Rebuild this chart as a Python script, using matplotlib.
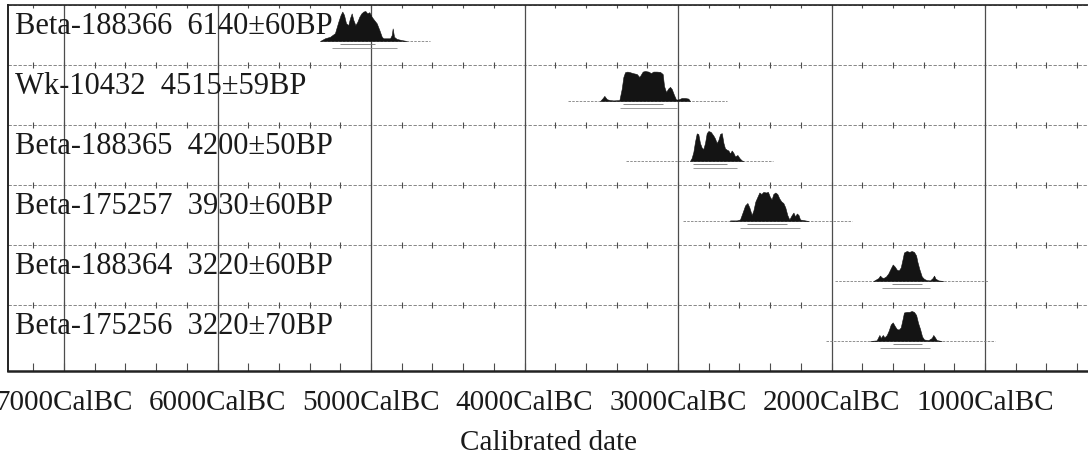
import matplotlib
matplotlib.use("Agg")
import matplotlib.pyplot as plt
from matplotlib.ticker import FixedLocator, MultipleLocator, FuncFormatter

# sample labels (top to bottom)
labels = [
    "Beta-188366  6140\u00b160BP",
    "Wk-10432  4515\u00b159BP",
    "Beta-188365  4200\u00b150BP",
    "Beta-175257  3930\u00b160BP",
    "Beta-188364  3220\u00b160BP",
    "Beta-175256  3220\u00b170BP",
]

# calibrated probability curves, years BC and relative probability
years_1 = [5332, 5300, 5267, 5235, 5213, 5198, 5187, 5176, 5163, 5148, 5137, 5126, 5115, 5102, 5089,
           5076, 5063, 5050, 5037, 5024, 5011, 4996, 4980, 4963, 4946, 4930, 4920, 4898, 4876, 4865,
           4859, 4850, 4833, 4800, 4767]
prob_1 = [0.0, 0.09, 0.14, 0.26, 0.64, 0.87, 0.98, 0.87, 0.59, 0.53, 0.76, 0.92, 0.70, 0.53, 0.64,
          0.81, 0.92, 0.98, 1.0, 0.92, 0.96, 0.81, 0.70, 0.59, 0.37, 0.14, 0.09, 0.09, 0.09, 0.2,
          0.42, 0.14, 0.07, 0.03, 0.0]

years_2 = [3508, 3490, 3480, 3464, 3443, 3421, 3382, 3367, 3356, 3345, 3330, 3313, 3295, 3269, 3252,
           3243, 3230, 3215, 3193, 3176, 3161, 3139, 3117, 3100, 3091, 3078, 3063, 3052, 3041, 3026,
           3013, 2998, 2976, 2954, 2933, 2922]
prob_2 = [0.0, 0.1, 0.17, 0.06, 0.03, 0.02, 0.03, 0.4, 0.8, 0.96, 0.98, 0.96, 0.93, 0.9, 0.8,
          0.87, 0.98, 1.0, 0.98, 0.93, 0.98, 0.98, 0.97, 0.9, 0.5, 0.3, 0.42, 0.47, 0.4, 0.2,
          0.05, 0.05, 0.1, 0.1, 0.08, 0.0]

years_3 = [2922, 2911, 2900, 2889, 2878, 2868, 2857, 2846, 2835, 2824, 2813, 2802, 2787, 2770, 2759,
           2748, 2737, 2726, 2715, 2704, 2694, 2683, 2672, 2661, 2650, 2639, 2628, 2613, 2600, 2585,
           2574]
prob_3 = [0.0, 0.1, 0.3, 0.65, 0.92, 0.9, 0.6, 0.45, 0.4, 0.6, 0.93, 1.0, 0.97, 0.85, 0.75,
          0.6, 0.7, 0.9, 0.93, 0.6, 0.42, 0.38, 0.35, 0.25, 0.35, 0.27, 0.15, 0.2, 0.1, 0.02,
          0.0]

years_4 = [2661, 2617, 2596, 2578, 2563, 2548, 2535, 2520, 2509, 2496, 2483, 2470, 2457, 2444, 2427,
           2414, 2401, 2390, 2379, 2366, 2353, 2340, 2327, 2314, 2301, 2288, 2275, 2259, 2248, 2237,
           2226, 2215, 2205, 2183, 2150]
prob_4 = [0.02, 0.02, 0.05, 0.3, 0.52, 0.6, 0.45, 0.2, 0.35, 0.65, 0.8, 0.95, 0.9, 0.97, 0.95,
          0.97, 0.8, 0.72, 0.9, 0.95, 0.9, 0.75, 0.65, 0.6, 0.45, 0.2, 0.05, 0.2, 0.28, 0.15,
          0.25, 0.2, 0.05, 0.03, 0.0]

years_5 = [1727, 1694, 1684, 1673, 1662, 1645, 1630, 1614, 1601, 1588, 1575, 1562, 1549, 1536, 1528,
           1510, 1493, 1478, 1463, 1449, 1441, 1428, 1412, 1397, 1380, 1358, 1341, 1332, 1323, 1304,
           1271]
prob_5 = [0.0, 0.1, 0.18, 0.12, 0.1, 0.15, 0.25, 0.42, 0.55, 0.48, 0.38, 0.35, 0.45, 0.75, 0.95,
          1.0, 0.97, 1.0, 0.97, 0.85, 0.65, 0.4, 0.15, 0.07, 0.03, 0.02, 0.1, 0.18, 0.08, 0.02,
          0.0]

years_6 = [1749, 1706, 1688, 1679, 1666, 1655, 1640, 1627, 1614, 1601, 1588, 1575, 1562, 1549, 1536,
           1528, 1510, 1493, 1478, 1463, 1449, 1436, 1423, 1410, 1397, 1369, 1347, 1337, 1326, 1315,
           1282]
prob_6 = [0.0, 0.02, 0.2, 0.1, 0.2, 0.12, 0.2, 0.35, 0.55, 0.62, 0.5, 0.4, 0.38, 0.45, 0.75,
          0.95, 0.97, 0.97, 1.0, 0.97, 0.87, 0.6, 0.4, 0.15, 0.05, 0.03, 0.1, 0.2, 0.12, 0.03,
          0.0]

years = [years_1, years_2, years_3, years_4, years_5, years_6]
probs = [prob_1, prob_2, prob_3, prob_4, prob_5, prob_6]

# extent of the dashed baseline under each curve (years BC)
base_from = [5330, 3717, 3339, 2967, 1977, 2036]
base_to = [4616, 2681, 2381, 1866, 980, 935]

# 68.2% and 95.4% ranges (years BC)
range68 = [(5200, 4975), (3358, 3098), (2900, 2680), (2552, 2292), (1608, 1412), (1601, 1410)]
range95 = [(5256, 4833), (3378, 3006), (2900, 2615), (2596, 2205), (1673, 1358), (1684, 1358)]

major_bc = [7000, 6000, 5000, 4000, 3000, 2000, 1000]

plt.rcParams.update({
    "font.family": ["Liberation Serif", "DejaVu Serif"],
    "font.size": 21,
})

fig = plt.figure(figsize=(10.88, 4.63), dpi=100)
ax = fig.add_axes([8 / 1088, 92 / 463, 1080 / 1088, 366 / 463])

x_left, x_right = -7365, -329
ax.set_xlim(x_left, x_right)
ax.set_ylim(6.1, 0)

# vertical grid lines every 1000 years
ax.vlines([-y for y in major_bc], 0, 6.1, color="0.3", lw=0.9, zorder=1)

# row separators: dashed line with small tick marks every 200 years
tick_x = [x for x in range(-7400, 0, 200) if x_left < x < x_right]
for i in range(6):
    ax.hlines(i, x_left, x_right, color="0.45", lw=0.6, linestyles=(0, (4, 2)), zorder=1)
    ax.plot(tick_x, [i] * len(tick_x), ls="none", marker="|", ms=5, mew=0.8, color="0.3", zorder=1)

for i in range(6):
    base = i + 0.6
    xs = [-y for y in years[i]]
    top = [base - 0.5 * p for p in probs[i]]
    ax.hlines(base, -base_from[i], -base_to[i], color="0.5", lw=0.6, linestyles=(0, (3, 1.5)), zorder=2)
    ax.fill_between(xs, base, top, color="#141414", lw=0.4, zorder=3)
    a, b = range68[i]
    ax.hlines(base + 0.045, -a, -b, color="0.45", lw=0.6, zorder=3)
    a, b = range95[i]
    ax.hlines(base + 0.11, -a, -b, color="0.55", lw=0.6, zorder=3)
    ax.text(7 / 1080, i + 0.49, labels[i], transform=ax.get_yaxis_transform(),
            ha="left", va="baseline", color="#1a1a1a", fontsize=22, zorder=4)

# axes frame
for side in ("left", "top", "bottom"):
    ax.spines[side].set_color("#222222")
ax.spines["left"].set_linewidth(1.4)
ax.spines["top"].set_linewidth(1.2)
ax.spines["bottom"].set_linewidth(1.8)
ax.spines["right"].set_visible(False)

ax.xaxis.set_major_locator(FixedLocator([-y for y in major_bc]))
ax.xaxis.set_minor_locator(MultipleLocator(200))
ax.xaxis.set_major_formatter(FuncFormatter(lambda v, pos: f"{int(round(-v))}CalBC"))
ax.tick_params(axis="x", which="both", direction="in", length=6, width=0.8, color="0.3",
               labelsize=21, pad=14, labelcolor="#1a1a1a")
ax.set_yticks([])
ax.set_xlabel("Calibrated date", fontsize=21, labelpad=10, color="#1a1a1a")

fig.savefig("out.png", dpi=100)
